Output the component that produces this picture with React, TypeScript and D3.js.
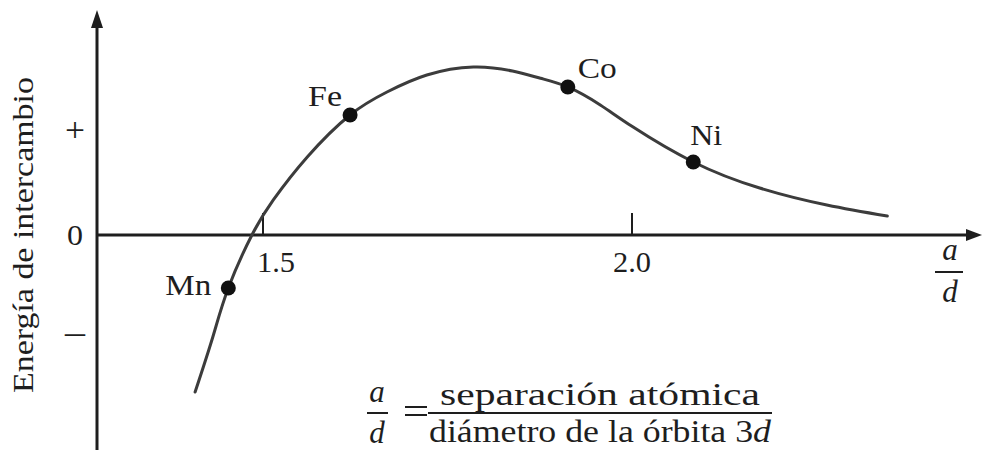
import React from "react";
import * as d3 from "d3";

// Exchange energy curve as a function of a/d
const curveX = [1.408, 1.432, 1.453, 1.485, 1.514, 1.56, 1.618, 1.668, 1.722, 1.785, 1.838, 1.876, 1.913, 1.957, 2.001, 2.083, 2.173, 2.264, 2.346];
const curveY = [-1.524, -0.99, -0.515, 0.0, 0.34, 0.757, 1.165, 1.388, 1.553, 1.631, 1.592, 1.522, 1.437, 1.262, 1.05, 0.709, 0.456, 0.291, 0.184];

// Elements placed on the curve
const elements = ["Mn", "Fe", "Co", "Ni"];
const elementX = [1.453, 1.618, 1.913, 2.083];
const elementY = [-0.515, 1.165, 1.437, 0.709];

const xTicks = [1.5, 2.0];
const xTickLabels = ["1.5", "2.0"];
const yTicks = [1, 0, -1];
const yTickLabels = ["+", "0", "\u2013"];

const W = 982;
const H = 450;
const FONT = '"Liberation Serif", "Times New Roman", Times, serif';

export default function App() {
  const x = d3.scaleLinear().domain([1.5, 2.0]).range([263, 632]);
  const y = d3.scaleLinear().domain([0, 1]).range([235, 132]);

  const axisX = 97;
  const axisY = y(0);
  const axisLeft = axisX;
  const axisRight = 982;
  const axisTop = 10;
  const axisBottom = 450;

  const pts: [number, number][] = curveX.map((v, i) => [x(v), y(curveY[i])]);
  const line = d3.line<[number, number]>().x((d) => d[0]).y((d) => d[1]).curve(d3.curveNatural);

  // label placement relative to each dot
  const labelPos: { dx: number; dy: number; anchor: string; len: number }[] = [
    { dx: -17, dy: 7, anchor: "end", len: 46 },
    { dx: -8, dy: -9, anchor: "end", len: 34 },
    { dx: 10, dy: -9, anchor: "start", len: 39 },
    { dx: -3, dy: -17, anchor: "start", len: 32 },
  ];

  const curveColor = "#3c3c3c";
  const axisColor = "#1e1e1e";
  const textColor = "#1e1e1e";

  return (
    <svg
      width={W}
      height={H}
      style={{ position: "absolute", left: 0, top: 0, background: "#fff", fontFamily: FONT }}
    >
      {/* vertical axis with arrow */}
      <line x1={axisX} x2={axisX} y1={axisBottom} y2={axisTop + 14} stroke={axisColor} strokeWidth={3} />
      <polygon
        points={`${axisX},${axisTop} ${axisX - 6},${axisTop + 18} ${axisX + 6},${axisTop + 18}`}
        fill={axisColor}
      />
      {/* horizontal axis with arrow */}
      <line x1={axisLeft} x2={axisRight - 12} y1={axisY} y2={axisY} stroke={axisColor} strokeWidth={3} />
      <polygon
        points={`${axisRight},${axisY} ${axisRight - 16},${axisY - 6} ${axisRight - 16},${axisY + 6}`}
        fill={axisColor}
      />

      {/* x ticks */}
      {xTicks.map((t, i) => (
        <g key={"xt" + i}>
          <line x1={x(t)} x2={x(t)} y1={axisY} y2={axisY - 22} stroke={axisColor} strokeWidth={2} />
          <text
            x={i === 0 ? x(t) - 6 : x(t)}
            y={axisY + 37}
            textAnchor={i === 0 ? "start" : "middle"}
            fontSize={30}
            fill={textColor}
            textLength={38}
            lengthAdjust="spacingAndGlyphs"
          >
            {xTickLabels[i]}
          </text>
        </g>
      ))}

      {/* y tick labels */}
      {yTicks.map((t, i) => (
        <text
          key={"yt" + i}
          x={75}
          y={y(t) + (t === 1 ? 9 : t === 0 ? 10 : 5)}
          textAnchor="middle"
          fontSize={t === 0 ? 29 : 33}
          fill={textColor}
          textLength={t === 0 ? 16 : 20}
          lengthAdjust="spacingAndGlyphs"
        >
          {yTickLabels[i]}
        </text>
      ))}

      {/* y axis title */}
      <text
        transform={`translate(33, 235) rotate(-90)`}
        textAnchor="middle"
        fontSize={30}
        fill={textColor}
        textLength={316}
        lengthAdjust="spacingAndGlyphs"
      >
        Energía de intercambio
      </text>

      {/* curve */}
      <path d={line(pts) || ""} fill="none" stroke={curveColor} strokeWidth={3} strokeLinecap="round" />

      {/* element dots and labels */}
      {elements.map((el, i) => {
        const cx = x(elementX[i]);
        const cy = y(elementY[i]);
        const p = labelPos[i];
        return (
          <g key={el}>
            <circle cx={cx} cy={cy} r={7.5} fill="#111" />
            <text
              x={cx + p.dx}
              y={cy + p.dy}
              textAnchor={p.anchor as any}
              fontSize={30}
              fill={textColor}
              textLength={p.len}
              lengthAdjust="spacingAndGlyphs"
            >
              {el}
            </text>
          </g>
        );
      })}

      {/* a/d label at end of x axis */}
      <g fill={textColor}>
        <text x={950} y={260} textAnchor="middle" fontSize={31} fontStyle="italic">a</text>
        <line x1={935} x2={963} y1={272} y2={272} stroke={textColor} strokeWidth={2} />
        <text x={950} y={302} textAnchor="middle" fontSize={31} fontStyle="italic">d</text>
      </g>

      {/* definition of a/d */}
      <g fill={textColor}>
        <text x={377} y={402} textAnchor="middle" fontSize={31} fontStyle="italic">a</text>
        <line x1={367} x2={388} y1={413} y2={413} stroke={textColor} strokeWidth={2} />
        <text x={377} y={443} textAnchor="middle" fontSize={31} fontStyle="italic">d</text>
        <line x1={405} x2={427} y1={407} y2={407} stroke={textColor} strokeWidth={2} />
        <line x1={405} x2={427} y1={415} y2={415} stroke={textColor} strokeWidth={2} />
        <line x1={428} x2={772} y1={413} y2={413} stroke={textColor} strokeWidth={2} />
        <text
          x={440}
          y={405}
          fontSize={31}
          textLength={320}
          lengthAdjust="spacingAndGlyphs"
        >
          separación atómica
        </text>
        <text
          x={429}
          y={442}
          fontSize={31}
          textLength={342}
          lengthAdjust="spacingAndGlyphs"
        >
          diámetro de la órbita 3<tspan fontStyle="italic">d</tspan>
        </text>
      </g>
    </svg>
  );
}
